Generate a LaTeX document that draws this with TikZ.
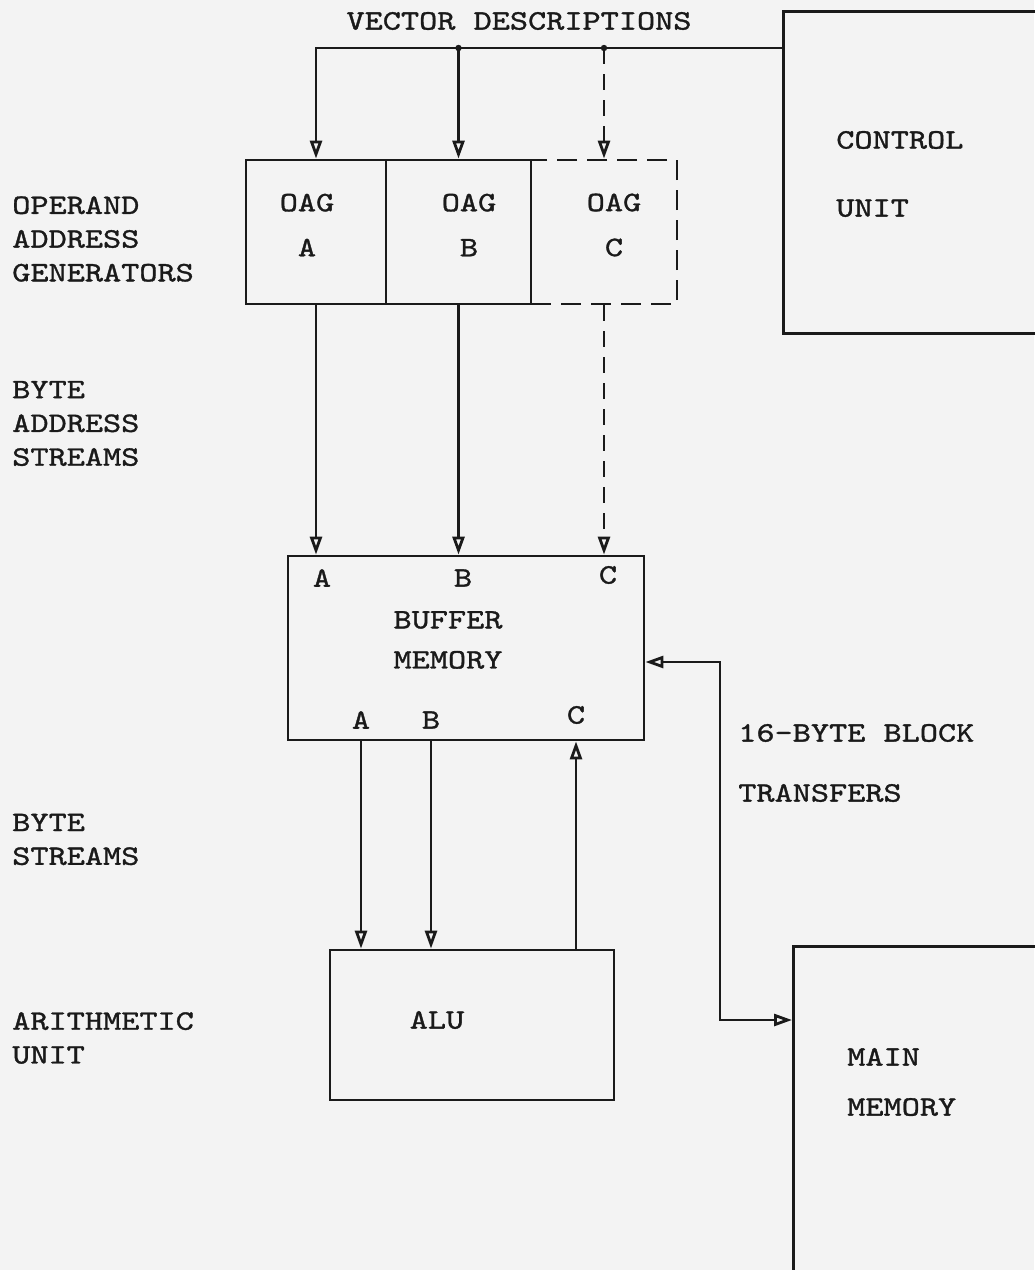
\documentclass[tikz,border=0pt]{standalone}
\usepackage{fontspec}
\usepackage{tikz}
\usetikzlibrary{
  arrows.meta,
  calc,
  positioning
}
\newfontfamily\vdfont[FakeStretch=1.23, FakeBold=1.2]{lmmono10-regular.otf}
\newcommand{\vdfs}[1]{\fontsize{20}{#1}\selectfont}
\definecolor{vdInk}{HTML}{1A1A1A}
\definecolor{vdPaper}{HTML}{F3F3F3}
\tikzset{
  vdnode/.style={draw=vdInk, line width=2pt, inner sep=0pt},
  oagbox/.style={vdnode, minimum height=36mm},
  vdtext/.style={font=\vdfont\vdfs{24}, text=vdInk, inner sep=0pt, align=center},
  vdlabel/.style={vdtext, anchor=west, align=left},
  vdflow/.style={-{Triangle[open, length=4.5mm, width=3mm]}, line width=2pt, vdInk},
  vdspec/.style={vdflow, dash pattern=on 4mm off 2.5mm},
  vdboth/.style={{Triangle[open, length=4.5mm, width=3mm]}-{Triangle[open, length=4.5mm, width=3mm]}, line width=2pt, vdInk},
  vddot/.style={circle, fill=vdInk, inner sep=0pt, minimum size=1.6mm}
}

\begin{document}
\begin{tikzpicture}[x=0.25mm, y=-0.25mm]
  \useasboundingbox[fill=vdPaper] (0,0) rectangle (1034,1270);

  % boxes
  \node[oagbox, minimum width=36.5mm, dash pattern=on 5mm off 2.5mm] (oagC) at (604,232) {};
  \node[oagbox, minimum width=35mm] (oagA) at (316,232) {};
  \node[oagbox, minimum width=36.25mm] (oagB) at (458.5,232) {};
  \node[vdnode, minimum width=89mm, minimum height=46mm] (buf) at (466,648) {};
  \node[vdnode, minimum width=71mm, minimum height=37.5mm] (alu) at (472,1025) {};
  \node[vdnode, anchor=north west, minimum width=75mm, minimum height=80.5mm] (ctrl) at (782,10) {};
  \node[vdnode, anchor=north west, minimum width=72.5mm, minimum height=100mm] (mem) at (792,945) {};

  % box texts
  \node[vdtext, font=\vdfont\vdfs{32}] (oagAt) at (307,225) {OAG\\A};
  \node[vdtext, font=\vdfont\vdfs{32}] (oagBt) at (469,225) {OAG\\B};
  \node[vdtext, font=\vdfont\vdfs{32}] (oagCt) at (614,225) {OAG\\C};
  \node[vdtext, font=\vdfont\vdfs{28.5}] (buft) at (448,640) {BUFFER\\MEMORY};
  \node[vdtext] (alut) at (437,1020) {ALU};
  \node[vdlabel, font=\vdfont\vdfs{48.4}] (ctrlt) at (836,174) {CONTROL\\UNIT};
  \node[vdlabel, font=\vdfont\vdfs{35.6}] (memt) at (847,1082) {MAIN\\MEMORY};

  % port letters of the buffer
  \node[vdtext] (bufiA) at (322,578) {A};
  \node[vdtext] (bufiB) at (463,578) {B};
  \node[vdtext] (bufiC) at (608,575) {C};
  \node[vdtext] (bufoA) at (361,720) {A};
  \node[vdtext] (bufoB) at (431,720) {B};
  \node[vdtext] (bufoC) at (576,715) {C};

  % side labels
  \node[vdtext] (vecdesc) at (519,21) {VECTOR DESCRIPTIONS};
  \node[vdlabel] (oplbl) at (12,239) {OPERAND\\ADDRESS\\GENERATORS};
  \node[vdlabel] (balbl) at (12,423.5) {BYTE\\ADDRESS\\STREAMS};
  \node[vdlabel] (bslbl) at (12,839.5) {BYTE\\STREAMS};
  \node[vdlabel] (aulbl) at (12,1038) {ARITHMETIC\\UNIT};
  \node[vdlabel, font=\vdfont\vdfs{42.7}] (xferlbl) at (738,763) {16-BYTE BLOCK\\TRANSFERS};

  % vector descriptions bus
  \coordinate (busE) at ($(ctrl.north west)+(0,38)$);
  \node[vddot] (jB) at (oagB.north |- busE) {};
  \node[vddot] (jC) at (oagC.north |- busE) {};
  \draw[vdflow] (busE) -- (jC.center) -- (jB.center) -| (oagA.north);
  \draw[vdflow] (jB.center) -- (oagB.north);
  \draw[vdspec] (jC.center) -- (oagC.north);

  % byte address streams
  \draw[vdflow] (oagA.south) -- (oagA.south |- buf.north);
  \draw[vdflow] (oagB.south) -- (oagB.south |- buf.north);
  \draw[vdspec] (oagC.south) -- (oagC.south |- buf.north);

  % byte streams
  \draw[vdflow] (bufoA |- buf.south) -- (bufoA |- alu.north);
  \draw[vdflow] (bufoB |- buf.south) -- (bufoB |- alu.north);
  \draw[vdflow] (bufoC |- alu.north) -- (bufoC |- buf.south);

  % block transfers
  \coordinate (xferN) at (720,662);
  \coordinate (xferS) at (720,1020);
  \draw[vdboth] (buf.east |- xferN) -- (xferN) -- (xferS) -- (mem.west |- xferS);
\end{tikzpicture}
\end{document}
